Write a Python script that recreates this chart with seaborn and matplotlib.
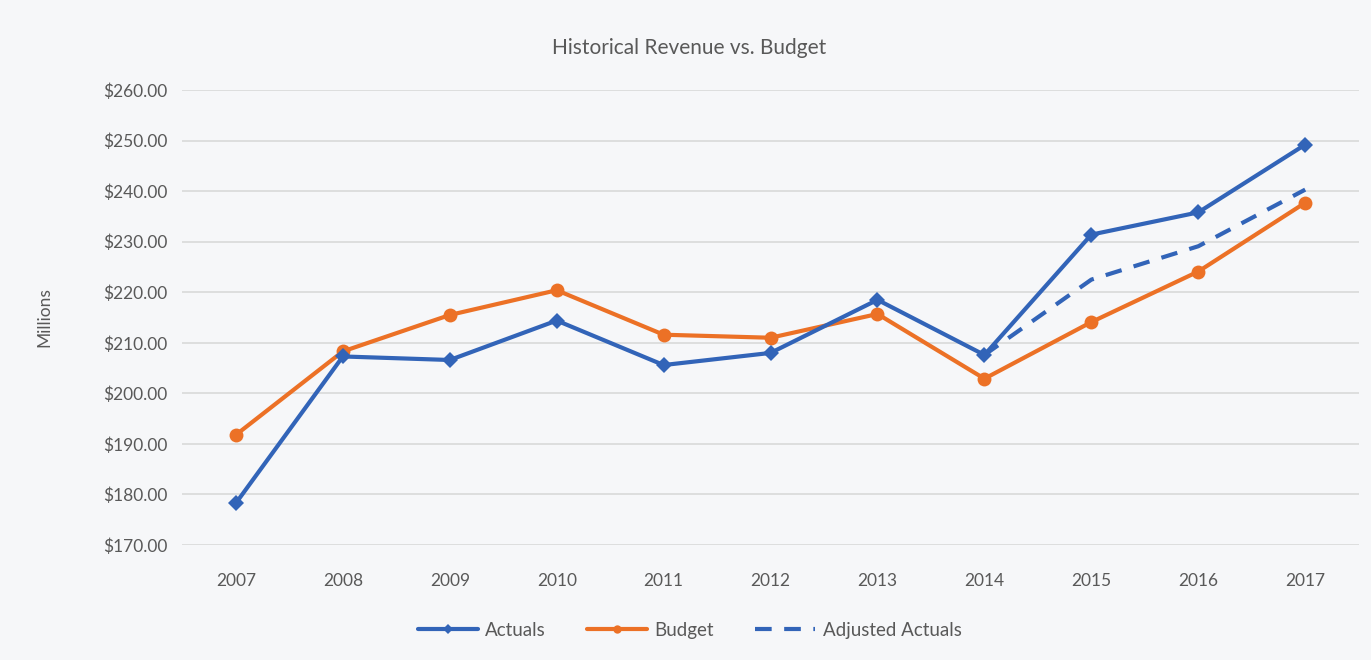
import matplotlib
matplotlib.use("Agg")
import matplotlib.pyplot as plt
import seaborn as sns
import pandas as pd
import numpy as np

years = [2007, 2008, 2009, 2010, 2011, 2012, 2013, 2014, 2015, 2016, 2017]
actuals = [178.3, 207.3, 206.6, 214.4, 205.6, 208.0, 218.5, 207.6, 231.4, 235.8, 249.2]
budget = [191.8, 208.3, 215.5, 220.4, 211.6, 211.0, 215.7, 202.9, 214.1, 224.1, 237.7]
adjusted = [np.nan, np.nan, np.nan, np.nan, np.nan, np.nan, np.nan, 207.6, 222.5, 229.1, 240.3]
yticks = [170, 180, 190, 200, 210, 220, 230, 240, 250, 260]

title = "Historical Revenue vs. Budget"
ylabel = "Millions"

BLUE = "#3264b8"
ORANGE = "#ec7126"
TEXT = "#595959"
BG = "#f6f7f9"

sns.set_theme(style="white")
plt.rcParams['font.family'] = ['Lato', 'DejaVu Sans']

fig = plt.figure(figsize=(13.71, 6.6), dpi=100, facecolor=BG)
ax = fig.add_axes([0.1331, 0.1742, 0.8579, 0.6894])
ax.set_facecolor(BG)

df = pd.DataFrame({"Year": years, "Actuals": actuals, "Budget": budget,
                   "Adjusted Actuals": adjusted})

sns.lineplot(data=df, x="Year", y="Adjusted Actuals", ax=ax, color=BLUE,
             linewidth=3, dashes=False, linestyle=(0, (4, 3)), label="Adjusted Actuals",
             zorder=2)
sns.lineplot(data=df, x="Year", y="Budget", ax=ax, color=ORANGE, linewidth=3,
             marker="o", markersize=10, markeredgewidth=0, label="Budget", zorder=3)
sns.lineplot(data=df, x="Year", y="Actuals", ax=ax, color=BLUE, linewidth=3,
             marker="D", markersize=8, markeredgewidth=0, label="Actuals", zorder=4)

ax.set_xlim(2006.5, 2017.5)
ax.set_ylim(170, 260)
ax.set_yticks(yticks)
ax.set_yticklabels([f"${v:.2f}" for v in yticks])
ax.set_xticks(years)
ax.set_xticklabels([str(y) for y in years])
ax.tick_params(axis="both", length=0, labelsize=12.5, labelcolor=TEXT)
ax.tick_params(axis="x", pad=20)
ax.tick_params(axis="y", pad=11)
ax.yaxis.grid(True, color="#d9d9d9", linewidth=1.2)
ax.xaxis.grid(False)
for s in ax.spines.values():
    s.set_visible(False)

ax.set_xlabel("")
ax.set_ylabel(ylabel, fontsize=12.5, color=TEXT, labelpad=36)
fig.text(0.503, 0.928, title, ha="center", va="center", fontsize=15, color=TEXT)

handles, labels = ax.get_legend_handles_labels()
order = [labels.index("Actuals"), labels.index("Budget"), labels.index("Adjusted Actuals")]
ax.legend([handles[i] for i in order], [labels[i] for i in order],
          loc="center", bbox_to_anchor=(0.503, 0.045), bbox_transform=fig.transFigure,
          ncol=3, frameon=False, fontsize=13.5, labelcolor=TEXT,
          handlelength=3.2, columnspacing=2.2, handletextpad=0.4, markerscale=0.6)

fig.savefig("out.png", dpi=100, facecolor=BG)
